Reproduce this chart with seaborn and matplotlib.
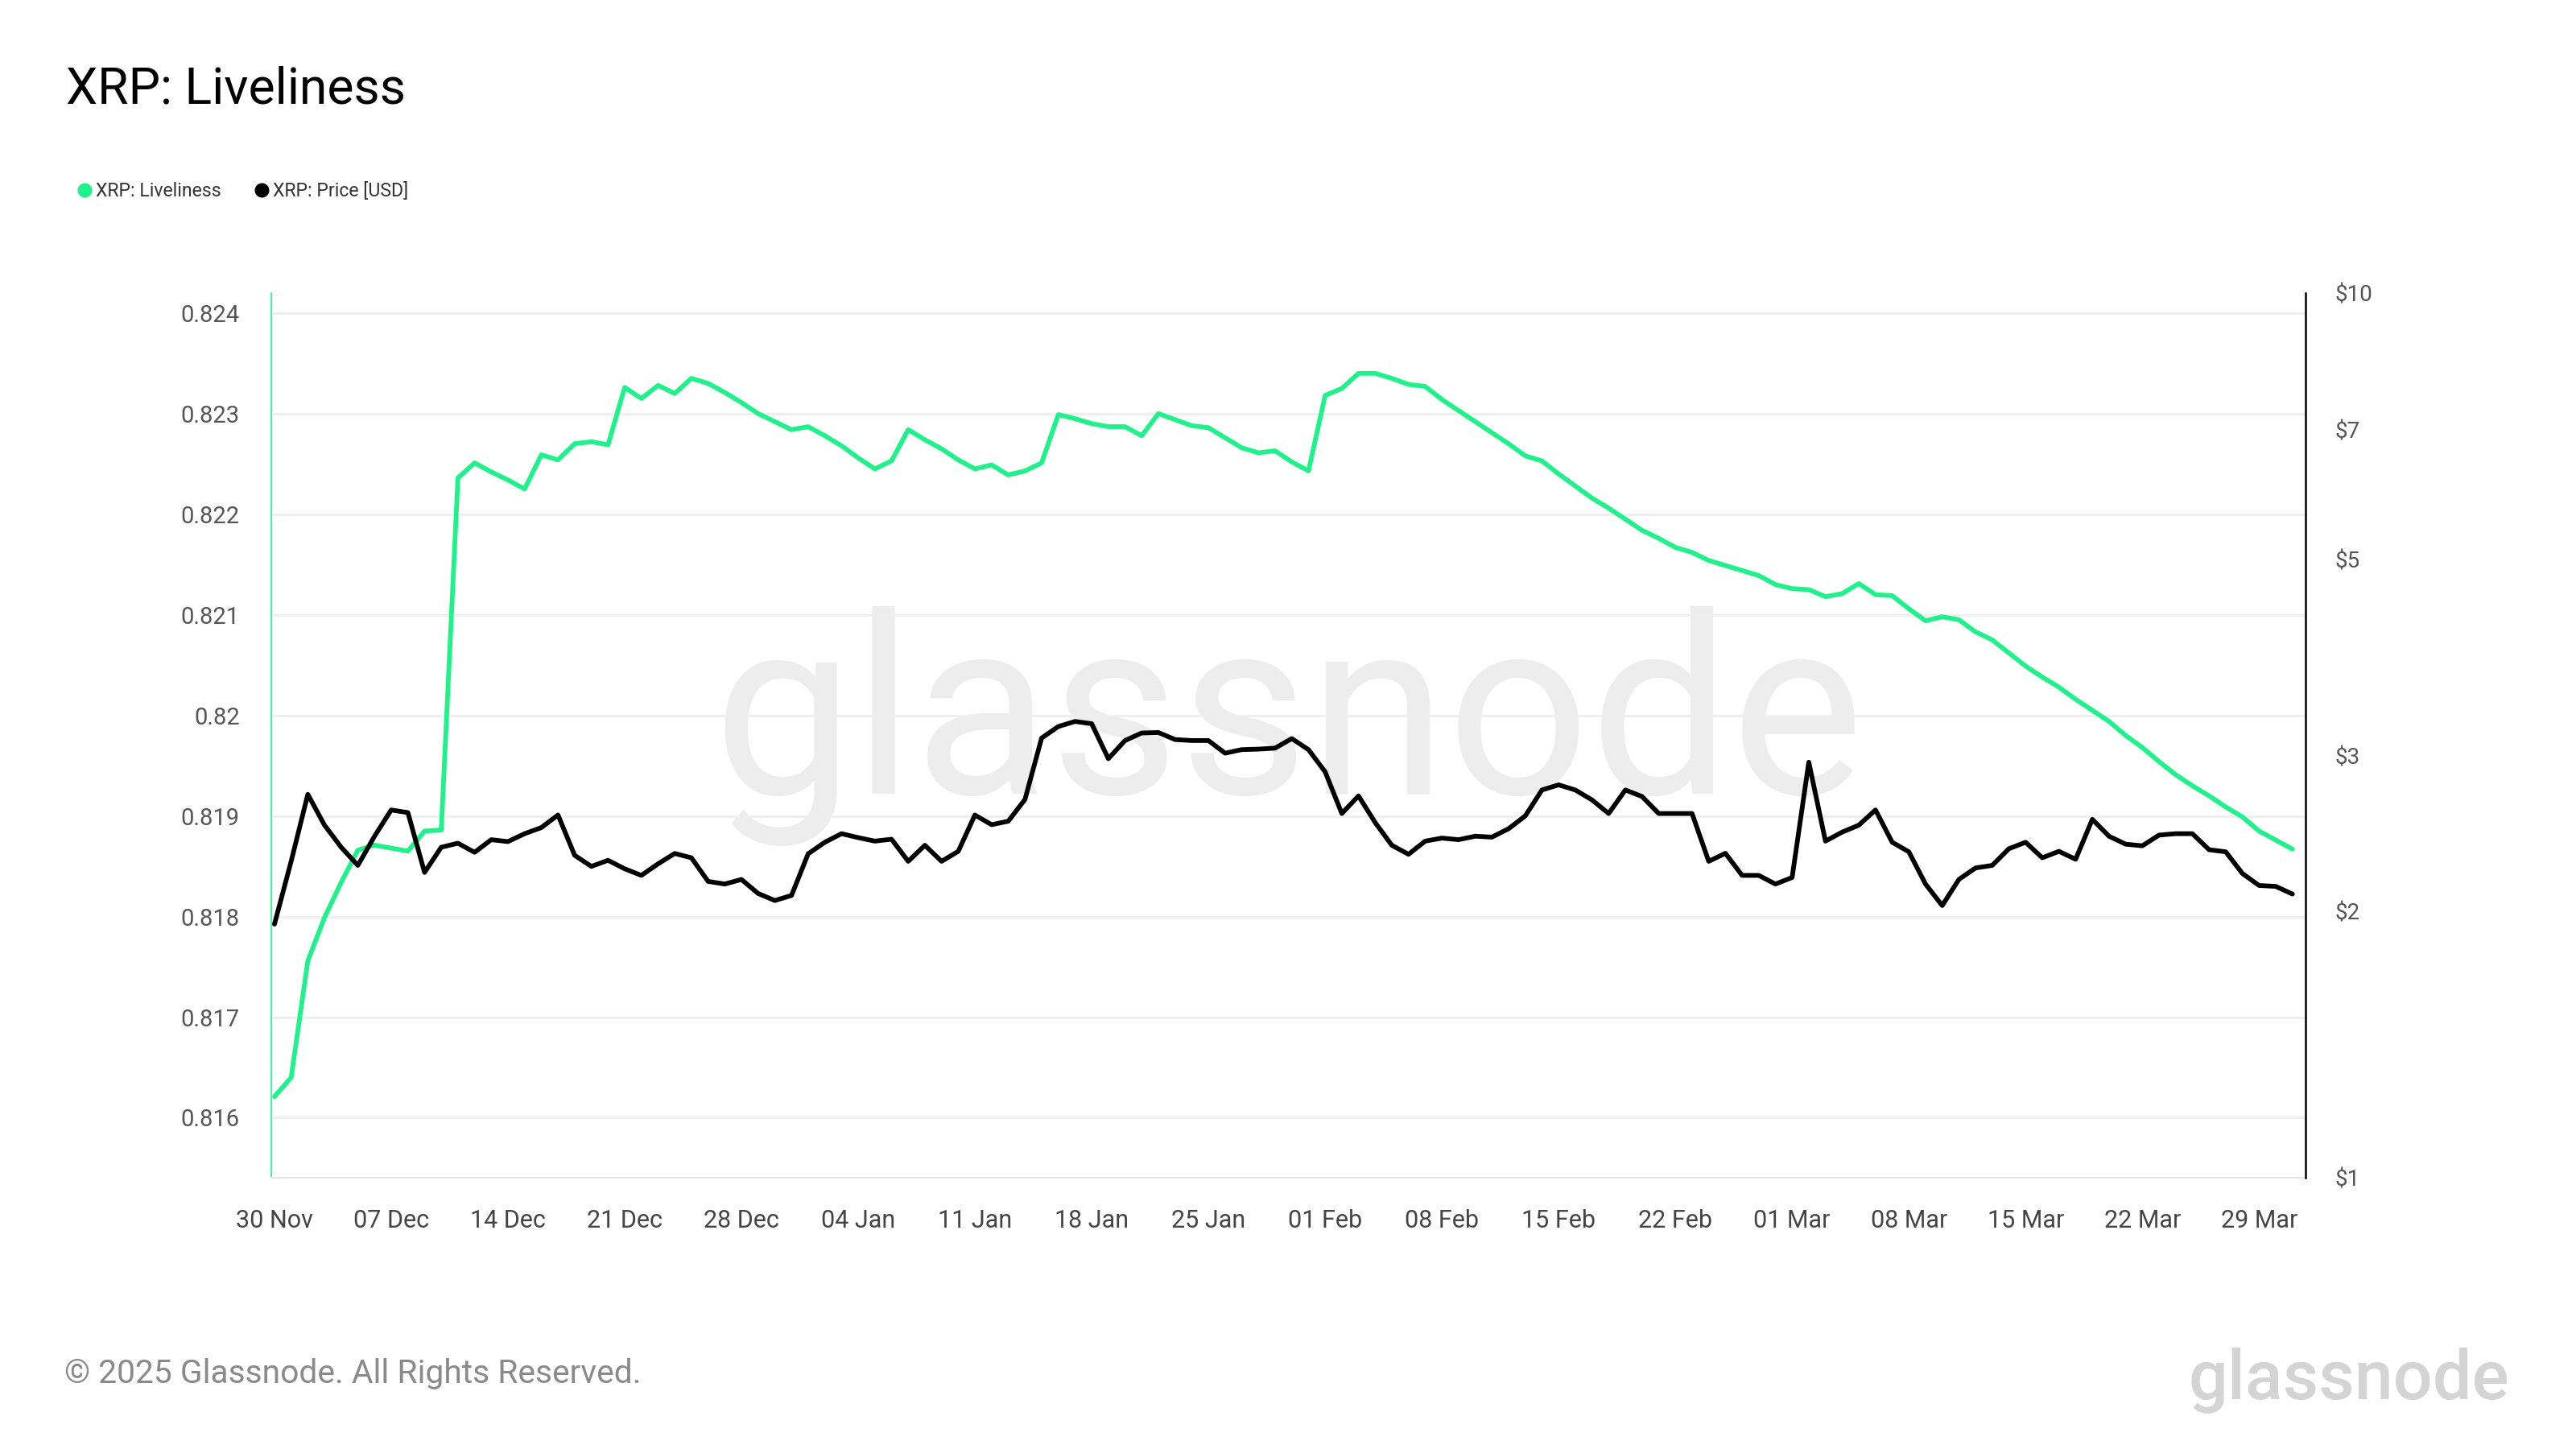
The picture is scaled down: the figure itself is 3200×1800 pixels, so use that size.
import numpy as np
import pandas as pd
import seaborn as sns
import matplotlib.pyplot as plt
import matplotlib.dates as mdates
from matplotlib.lines import Line2D
from matplotlib.ticker import FixedLocator, NullLocator

# daily values, 30 Nov 2024 .. 31 Mar 2025
dates = pd.date_range("2024-11-30", "2025-03-31", freq="D")

liveliness = [
    0.81621, 0.81640, 0.81756, 0.81799, 0.81834, 0.81866, 0.81871, 0.81868, 0.81865, 0.81885,
    0.81886, 0.82236, 0.82251, 0.82242, 0.82234, 0.82225, 0.82259, 0.82254, 0.82270, 0.82272,
    0.82269, 0.82326, 0.82315, 0.82328, 0.82320, 0.82335, 0.82330, 0.82321, 0.82311, 0.82300,
    0.82292, 0.82284, 0.82287, 0.82278, 0.82268, 0.82256, 0.82245, 0.82253, 0.82284, 0.82274,
    0.82265, 0.82254, 0.82245, 0.82249, 0.82239, 0.82243, 0.82251, 0.82299, 0.82295, 0.82290,
    0.82287, 0.82287, 0.82278, 0.82300, 0.82294, 0.82288, 0.82286, 0.82276, 0.82266, 0.82261,
    0.82263, 0.82252, 0.82243, 0.82318, 0.82325, 0.82340, 0.82340, 0.82335, 0.82329, 0.82327,
    0.82314, 0.82303, 0.82292, 0.82281, 0.82270, 0.82258, 0.82253, 0.82240, 0.82228, 0.82216,
    0.82206, 0.82195, 0.82184, 0.82176, 0.82167, 0.82162, 0.82154, 0.82149, 0.82144, 0.82139,
    0.82130, 0.82126, 0.82125, 0.82118, 0.82121, 0.82131, 0.82120, 0.82119, 0.82106, 0.82094,
    0.82098, 0.82095, 0.82083, 0.82075, 0.82062, 0.82049, 0.82038, 0.82028, 0.82016, 0.82005,
    0.81994, 0.81980, 0.81968, 0.81954, 0.81941, 0.81930, 0.81920, 0.81909, 0.81899, 0.81885,
    0.81876, 0.81867,
]

price = [
    1.934, 2.278, 2.712, 2.503, 2.363, 2.254, 2.432, 2.604, 2.586, 2.213,
    2.363, 2.388, 2.332, 2.410, 2.398, 2.448, 2.487, 2.570, 2.314, 2.248,
    2.284, 2.234, 2.196, 2.263, 2.325, 2.299, 2.162, 2.147, 2.173, 2.095,
    2.057, 2.084, 2.323, 2.394, 2.448, 2.423, 2.401, 2.413, 2.278, 2.375,
    2.278, 2.338, 2.570, 2.506, 2.529, 2.676, 3.140, 3.236, 3.279, 3.260,
    2.976, 3.120, 3.182, 3.186, 3.128, 3.120, 3.120, 3.019, 3.047, 3.051,
    3.059, 3.136, 3.047, 2.876, 2.580, 2.701, 2.520, 2.375, 2.320, 2.401,
    2.420, 2.410, 2.432, 2.426, 2.480, 2.564, 2.743, 2.780, 2.743, 2.673,
    2.580, 2.743, 2.697, 2.580, 2.580, 2.580, 2.278, 2.326, 2.196, 2.196,
    2.147, 2.184, 2.949, 2.401, 2.458, 2.503, 2.604, 2.394, 2.335, 2.147,
    2.030, 2.173, 2.239, 2.254, 2.354, 2.394, 2.299, 2.338, 2.290, 2.541,
    2.432, 2.382, 2.372, 2.439, 2.448, 2.448, 2.348, 2.335, 2.207, 2.139,
    2.134, 2.092,
]

left_ticks = [0.816, 0.817, 0.818, 0.819, 0.82, 0.821, 0.822, 0.823, 0.824]
left_labels = ["0.816", "0.817", "0.818", "0.819", "0.82", "0.821", "0.822", "0.823", "0.824"]
price_ticks = [1, 2, 3, 5, 7, 10]
price_labels = ["$1", "$2", "$3", "$5", "$7", "$10"]

GREEN = "#1ff28b"
df = pd.DataFrame({"date": dates, "liveliness": liveliness, "price": price})

sns.set_style("white")
plt.rcParams["font.family"] = ["Roboto", "DejaVu Sans"]

fig = plt.figure(figsize=(16, 9), dpi=200)
ax = fig.add_axes([0.1052, 0.1874, 0.7899, 0.6102])
ax2 = ax.twinx()

# watermark behind everything
ax.text(0.5, 0.499, "glassnode", transform=fig.transFigure, ha="center", va="center",
        fontsize=112, color="#ededed", fontweight="normal", zorder=0)

ax2.set_yscale("log")
sns.lineplot(data=df, x="date", y="liveliness", ax=ax, color=GREEN, linewidth=2.1, zorder=3)
sns.lineplot(data=df, x="date", y="price", ax=ax2, color="black", linewidth=2.1, zorder=3)

ax.set_xlim(dates[0] - pd.Timedelta(hours=5), dates[0] + pd.Timedelta(days=121.8))
ax.set_ylim(0.815406, 0.824196)
ax2.set_ylim(1, 10)

ax.yaxis.set_major_locator(FixedLocator(left_ticks))
ax.set_yticklabels(left_labels)
ax.grid(axis="y", color="#efefef", linewidth=1.0)
ax.grid(axis="x", visible=False)
ax.set_axisbelow(True)

ax2.yaxis.set_major_locator(FixedLocator(price_ticks))
ax2.yaxis.set_minor_locator(NullLocator())
ax2.set_yticklabels(price_labels)

xt = pd.date_range(dates[0], dates[-1], freq="7D")
ax.set_xticks(xt)
ax.xaxis.set_major_formatter(mdates.DateFormatter("%d %b"))

ax.tick_params(axis="y", length=0, pad=14, labelsize=10.5, labelcolor="#555555")
ax.tick_params(axis="x", length=8, width=1.0, color="#e4e4e4", pad=6, labelsize=11, labelcolor="#444444")
ax2.tick_params(axis="y", length=0, pad=13, labelsize=10, labelcolor="#555555")

for a in (ax, ax2):
    a.set_xlabel("")
    a.set_ylabel("")
    a.spines["top"].set_visible(False)
ax.spines["right"].set_visible(False)
ax.spines["left"].set_color(GREEN)
ax.spines["left"].set_linewidth(0.6)
ax.spines["bottom"].set_color("#e6e6e6")
ax.spines["bottom"].set_linewidth(0.8)
ax2.spines["left"].set_visible(False)
ax2.spines["bottom"].set_visible(False)
ax2.spines["right"].set_color("black")
ax2.spines["right"].set_linewidth(0.9)

fig.text(0.0255, 0.938, "XRP: Liveliness", fontsize=22.5, color="black", ha="left", va="center")

handles = [
    Line2D([], [], marker="o", linestyle="", color=GREEN, markersize=5.5),
    Line2D([], [], marker="o", linestyle="", color="black", markersize=5.5),
]
fig.legend(handles, ["XRP: Liveliness", "XRP: Price [USD]"], loc="center left",
           bbox_to_anchor=(0.027, 0.868), ncol=2, frameon=False, fontsize=8.3,
           handlelength=0.6, handletextpad=0.3, columnspacing=1.9, borderpad=0,
           labelcolor="#333333")

fig.text(0.025, 0.0522, "\u00a9 2025 Glassnode. All Rights Reserved.", fontsize=14.7,
         color="#8a8a8a", ha="left", va="center")
fig.text(0.974, 0.047, "glassnode", fontsize=31, color="#d4d4d4", ha="right", va="center",
         fontweight="medium")

fig.savefig("out.png", dpi=200, facecolor="white")
